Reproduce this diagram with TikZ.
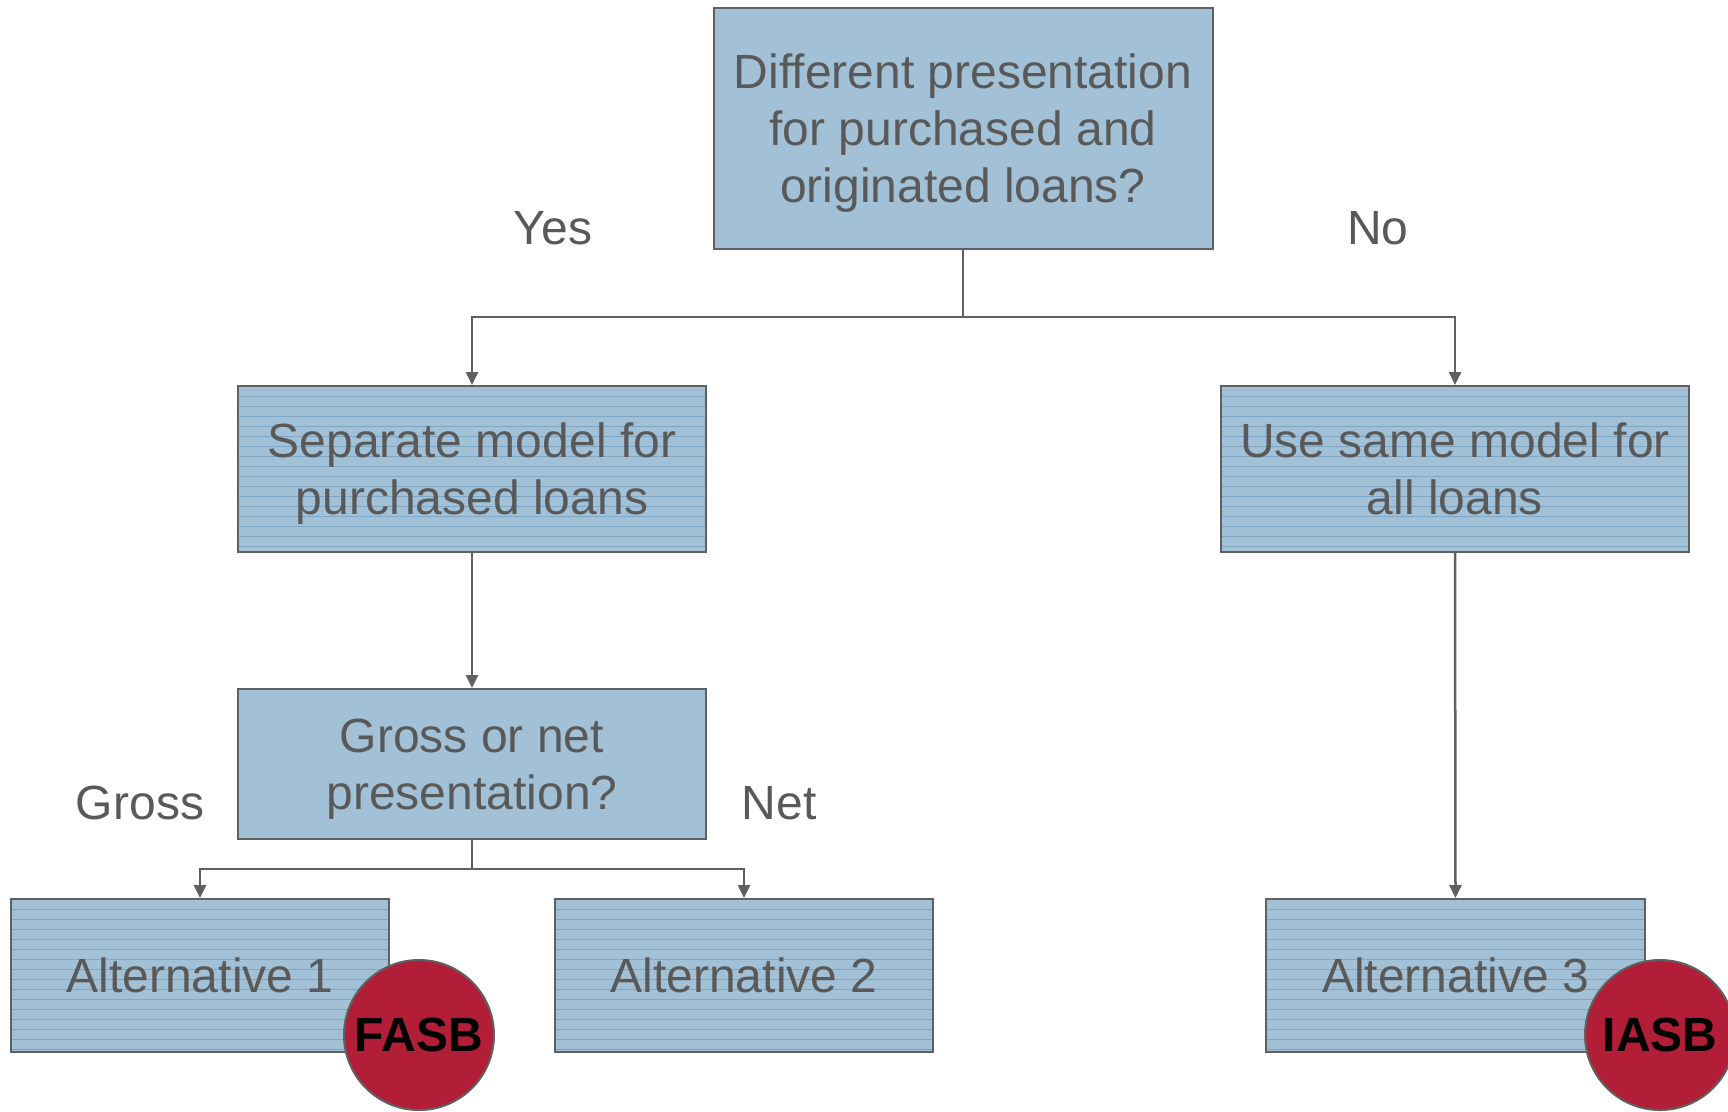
\documentclass[tikz,border=0pt]{standalone}
\usepackage{fontspec}
\setmainfont{Liberation Sans}
\usepackage{tikz}
\usetikzlibrary{
	positioning,
	arrows.meta
}

\definecolor{boxblue}{RGB}{163,193,214}
\definecolor{stripeblue}{RGB}{100,150,185}
\definecolor{edgegray}{RGB}{96,96,96}
\definecolor{textgray}{RGB}{89,89,89}
\definecolor{badgered}{RGB}{178,29,56}

\tikzset{
	question/.style={draw=edgegray,line width=2pt,fill=boxblue,inner sep=0pt,
		align=center,text=textgray,text depth=0pt,font=\fontsize{48}{57}\selectfont},
	striped/.style={question,
		path picture={
			\foreach \k in {1,...,17}
				\draw[stripeblue,line width=0.8pt,opacity=0.6]
					([yshift=-\k*10pt]path picture bounding box.north west) --
					([yshift=-\k*10pt]path picture bounding box.north east);
		}},
	branch/.style={text=textgray,font=\fontsize{48}{57}\selectfont},
	badge/.style={circle,draw=edgegray,line width=2pt,fill=badgered,
		minimum size=150pt,inner sep=0pt,font=\fontsize{48}{50}\selectfont\bfseries},
	link/.style={draw=edgegray,line width=2.5pt,-{Triangle[length=13pt,width=12pt]}},
	fork/.style={draw=edgegray,line width=2.5pt}
}

\begin{document}
\begin{tikzpicture}[x=1pt,y=-1pt]
	\useasboundingbox (0,0) rectangle (1728,1111);

	\node[question,minimum width=499pt,minimum height=241pt] (diff) at (963,128.5)
		{Different presentation\\for purchased and\\originated loans?};
	\node[striped,minimum width=468pt,minimum height=166pt] (sep) at (472,469)
		{Separate model for\\purchased loans};
	\node[striped,minimum width=468pt,minimum height=166pt] (same) at (1455,469)
		{Use same model for\\all loans};
	\node[question,minimum width=468pt,minimum height=150pt] (gross) at (472,764)
		{Gross or net\\presentation?};
	\node[striped,minimum width=378pt,minimum height=153pt] (alt1) at (200,975.5)
		{Alternative 1};
	\node[striped,minimum width=378pt,minimum height=153pt] (alt2) at (744,975.5)
		{Alternative 2};
	\node[striped,minimum width=379pt,minimum height=153pt] (alt3) at (1455.5,975.5)
		{Alternative 3};

	\node[badge] (fasb) at (419,1035) {FASB};
	\node[badge] (iasb) at (1660,1035) {IASB};

	\node[branch] (yes)   at (553,228) {Yes};
	\node[branch] (no)    at (1378,228) {No};
	\node[branch] (grlab) at (140,803) {Gross};
	\node[branch] (netlb) at (779,803) {Net};

	\coordinate (topfork) at (963,317);
	\coordinate (lowfork) at (472,869);

	\draw[fork] (diff.south) -- (topfork);
	\draw[link] (topfork) -| (sep.north);
	\draw[link] (topfork) -| (same.north);
	\draw[link] (sep.south) -- (gross.north);
	\draw[link] (same.south) -- (alt3.north);
	\draw[fork] (gross.south) -- (lowfork);
	\draw[link] (lowfork) -| (alt1.north);
	\draw[link] (lowfork) -| (alt2.north);
\end{tikzpicture}
\end{document}
